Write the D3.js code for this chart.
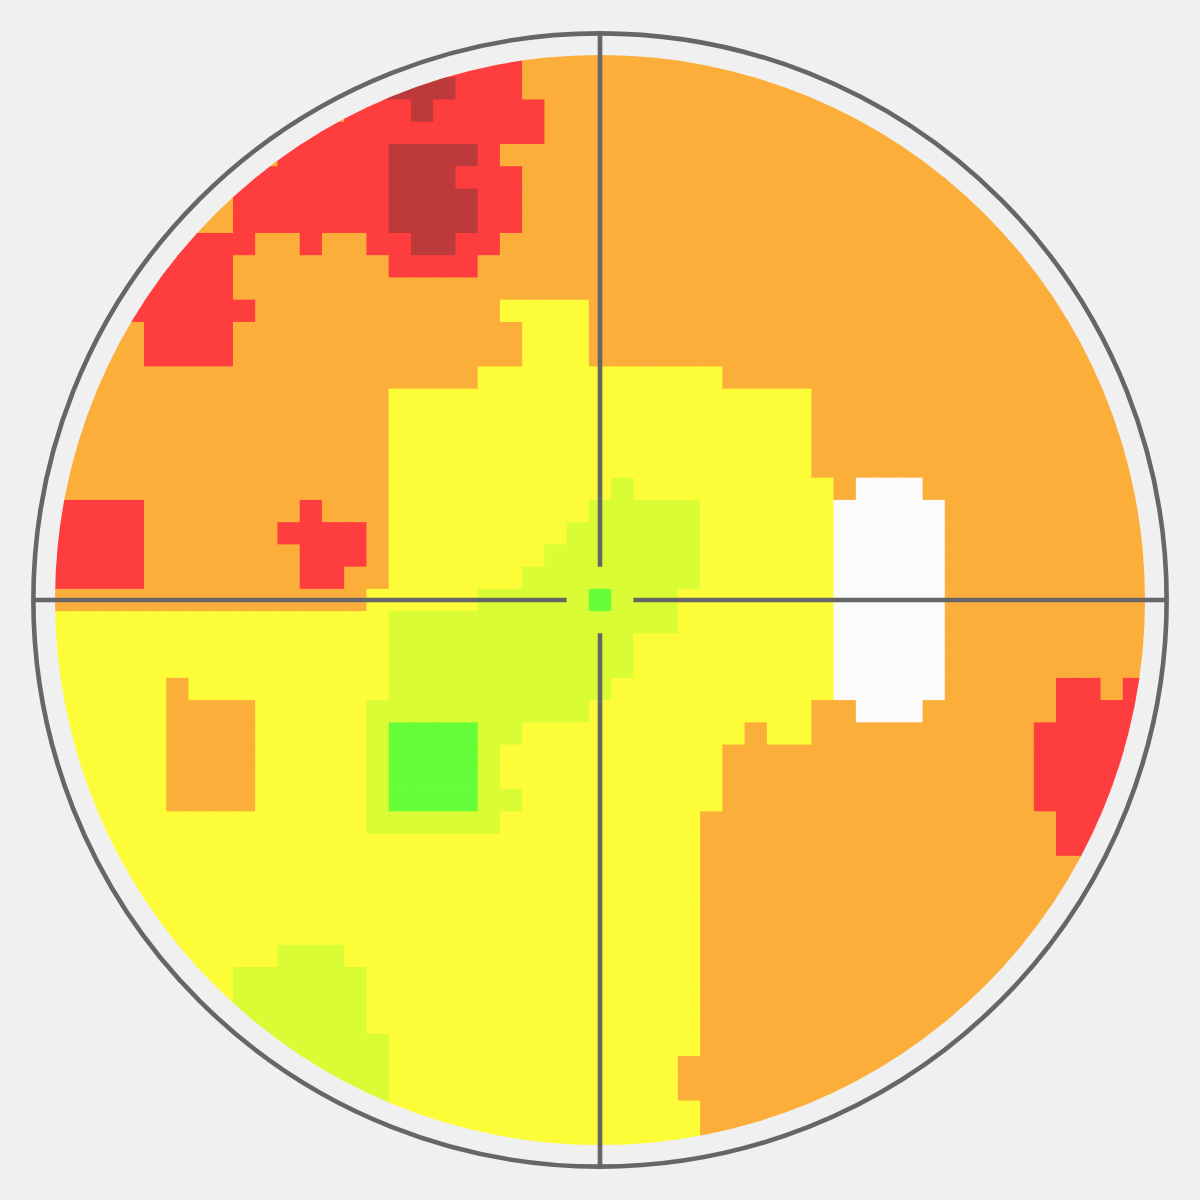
<!DOCTYPE html>
<html>
<head>
<meta charset="utf-8">
<script src="https://cdn.jsdelivr.net/npm/d3@7/dist/d3.min.js"></script>
<style>html,body{margin:0;padding:0;background:#f0f0f0}svg{display:block}</style>
</head>
<body>
<svg id="chart" width="1200" height="1200"></svg>
<script>
// Sensitivity class per test location, 49 x 49 grid (spaces are only for reading)
const rowsData = [
"1111111111 1111111111 1222222222 2222222222 222222222",
"1111111111 1111000011 1222222222 2222222222 222222222",
"2222222222 2221110111 1122222222 2222222222 222222222",
"2222222222 1111111111 1122222222 2222222222 222222222",
"2222222222 1111100001 2222222222 2222222222 222222222",
"2222222211 1111100011 1222222222 2222222222 222222222",
"2222222211 1111100001 1222222222 2222222222 222222222",
"2222222211 1111100001 1222222222 2222222222 222222222",
"1111111112 2122110011 2222222222 2222222222 222222222",
"1111111122 2222211112 2222222222 2222222222 222222222",
"1111111122 2222222222 2222222222 2222222222 222222222",
"1111111112 2222222222 3333222222 2222222222 222222222",
"2222111122 2222222222 2333222222 2222222222 222222222",
"2222111122 2222222222 2333222222 2222222222 222222222",
"2222222222 2222222223 3333333333 2222222222 222222222",
"2222222222 2222233333 3333333333 3333222222 222222222",
"2222222222 2222233333 3333333333 3333222222 222222222",
"2222222222 2222233333 3333333333 3333222222 222222222",
"2222222222 2222233333 3333333333 3333222222 222222222",
"2222222222 2222233333 3333343333 3333326662 222222222",
"1111222222 2122233333 3333444443 3333366666 222222222",
"1111222222 1111233333 3334444443 3333366666 222222222",
"1111222222 2111233333 3344444443 3333366666 222222222",
"1111222222 2112233333 3444444443 3333366666 222222222",
"2222222222 2222333334 4444544433 3333366666 222222222",
"3333333333 3333344444 4444444433 3333366666 222222222",
"3333333333 3333344444 4444443333 3333366666 222222222",
"3333333333 3333344444 4444443333 3333366666 222222222",
"3333323333 3333344444 4444433333 3333366666 222221121",
"3333322223 3333444444 4444333333 3333226662 222221111",
"3333322223 3333455554 4333333333 3233222222 222211111",
"3333322223 3333455554 3333333333 2222222222 222211111",
"3333322223 3333455554 3333333333 2222222222 222211111",
"3333322223 3333455554 4333333333 2222222222 222211111",
"3333333333 3333444444 3333333332 2222222222 222221111",
"3333333333 3333333333 3333333332 2222222222 222221111",
"3333333333 3333333333 3333333332 2222222222 222222222",
"3333333333 3333333333 3333333332 2222222222 222222222",
"3333333333 3333333333 3333333332 2222222222 222222222",
"3333333333 3333333333 3333333332 2222222222 222222222",
"3333333333 4443333333 3333333332 2222222222 222222222",
"3333333344 4444333333 3333333332 2222222222 222222222",
"3333333344 4444333333 3333333332 2222222222 222222222",
"3333333344 4444333333 3333333332 2222222222 222222222",
"3333333344 4444433333 3333333332 2222222222 222222222",
"3333333344 4444433333 3333333322 2222222222 222222222",
"3333333344 4444433333 3333333322 2222222222 222222222",
"3333333344 4444433333 3333333332 2222222222 222222222",
"3333333344 4444433333 3333333332 2222222222 222222222"
];
const classValues = [0, 1, 2, 3, 4, 5, 6];
const classColors = ["#bd3a3a", "#fe3e3e", "#fcae3b", "#fcfc38", "#d9fc35", "#65fe38", "#fbfbfb"];

const size = 1200, plotLeft = 55, plotRight = 1145;
const grid = rowsData.map(r => r.replace(/ /g, "").split("").map(Number));
const n = grid.length;
const idx = d3.range(n);

const x = d3.scaleBand().domain(idx).range([plotLeft, plotRight]).paddingInner(0).paddingOuter(0);
const y = d3.scaleBand().domain(idx).range([plotLeft, plotRight]).paddingInner(0).paddingOuter(0);
const color = d3.scaleOrdinal().domain(classValues).range(classColors);
const pos = d3.scaleLinear().domain([-24.5, 24.5]).range([plotLeft, plotRight]);

const svg = d3.select("#chart").attr("viewBox", `0 0 ${size} ${size}`);
svg.append("rect").attr("width", size).attr("height", size).attr("fill", "#f0f0f0");

const cx = pos(0), cy = pos(0);
const inner = pos(24.5) - cx;
const outer = pos(25.5) - cx;
const gap = pos(1.5) - cx;

svg.append("clipPath").attr("id", "field")
  .append("circle").attr("cx", cx).attr("cy", cy).attr("r", inner);

const cells = [];
grid.forEach((row, r) => row.forEach((v, c) => cells.push({r, c, v})));

// Each cell overhangs right and down by a little; the next cell painted covers
// the overhang, so adjacent cells blend at shared edges with no background seam.
const overhang = 0.75;
svg.append("g").attr("clip-path", "url(#field)")
  .selectAll("rect").data(cells).join("rect")
  .attr("x", d => x(d.c)).attr("y", d => y(d.r))
  .attr("width", x.bandwidth() + overhang).attr("height", y.bandwidth() + overhang)
  .attr("fill", d => color(d.v));

const ink = "#666666";
const lineWidth = 4.6;
svg.append("circle").attr("cx", cx).attr("cy", cy).attr("r", outer - 0.6)
  .attr("fill", "none").attr("stroke", ink).attr("stroke-width", lineWidth);

const segs = [
  [cx - outer, cy, cx - gap, cy],
  [cx + gap, cy, cx + outer, cy],
  [cx, cy - outer, cx, cy - gap],
  [cx, cy + gap, cx, cy + outer]
];
svg.append("g").selectAll("line").data(segs).join("line")
  .attr("x1", d => d[0]).attr("y1", d => d[1])
  .attr("x2", d => d[2]).attr("y2", d => d[3])
  .attr("stroke", ink).attr("stroke-width", lineWidth);
</script>
</body>
</html>
